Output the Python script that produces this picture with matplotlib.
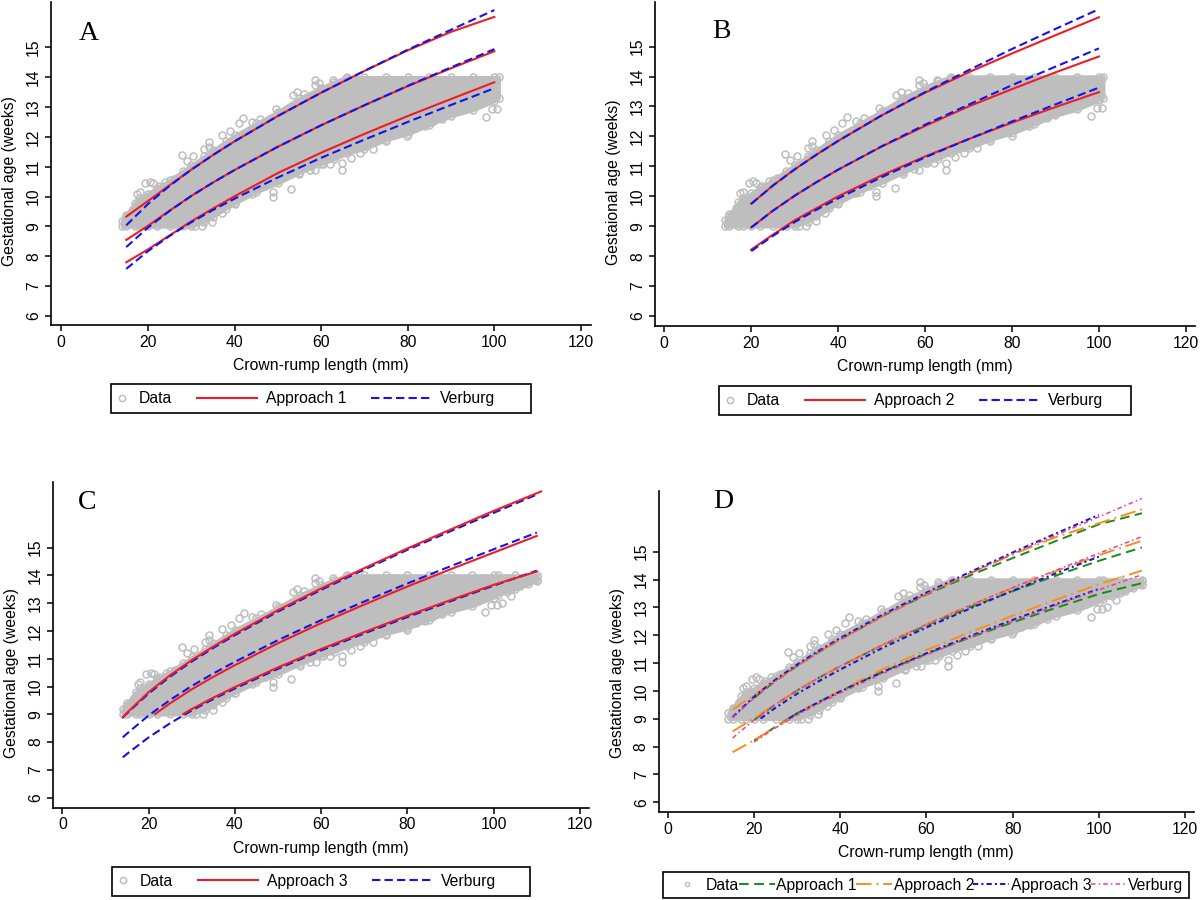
import numpy as np
import matplotlib
matplotlib.use("Agg")
import matplotlib.pyplot as plt
from matplotlib.lines import Line2D
from matplotlib.patches import Rectangle
from matplotlib.legend_handler import HandlerBase

plt.rcParams['font.family'] = ['Liberation Sans', 'DejaVu Sans']

# ---- data ----
# dense data cloud: lower / upper edge of the grey band (GA in weeks)
cloud_crl = [14, 15, 17, 18, 20, 22, 25, 28, 30, 33, 35, 38, 40, 45, 50, 55, 60, 63, 66,
             70, 75, 80, 85, 90, 95, 100, 101, 105, 110]
cloud_low = [9.0, 9.0, 9.0, 9.0, 9.0, 9.0, 9.0, 9.0, 9.0, 9.15, 9.33, 9.6, 9.77, 10.15, 10.45,
             10.8, 11.1, 11.25, 11.45, 11.6, 11.9, 12.1, 12.4, 12.7, 12.9, 13.2, 13.3, 13.5, 13.8]
cloud_high = [9.2, 9.4, 9.8, 9.95, 10.1, 10.3, 10.55, 10.85, 11.05, 11.35, 11.55, 11.85, 12.05,
              12.45, 12.85, 13.3, 13.65, 13.85, 14.0, 14.0, 14.0, 14.0, 14.0, 14.0, 14.0, 14.0,
              14.0, 14.0, 14.0]

# scattered points outside the dense band
out_crl = [15.0, 16.5, 17.5, 18.1, 19.4, 20.5, 21.2, 22.5, 24, 26, 27.8, 29, 30.5, 33, 34.0, 34.0,
           37.1, 39, 42.0, 41, 44, 46, 49.5, 50.5, 53.4, 54.5, 56, 58.5, 58.5, 59.5, 62.7, 65.8,
           30.9, 32.5, 34.9, 37, 40, 44, 47, 48.8, 48.8, 53.0, 55, 57.5, 58.7, 60.5, 62, 64.9,
           64.9, 67, 69, 72, 75, 79.9, 82, 84, 85.7, 88, 90, 91.9, 94.5, 96, 98.1, 99.5, 100.7,
           102, 103, 104, 106, 108, 110, 110]
out_ga = [9.35, 9.6, 10.1, 10.16, 10.44, 10.5, 10.44, 10.35, 10.5, 10.6, 11.41, 11.2, 11.35, 11.6,
          11.84, 11.67, 12.06, 12.2, 12.65, 12.45, 12.5, 12.6, 12.95, 12.85, 13.4, 13.5, 13.45,
          13.9, 13.73, 13.8, 13.9, 13.96,
          9.0, 9.0, 9.16, 9.45, 9.75, 10.1, 10.35, 10.0, 10.16, 10.27, 10.75, 10.9, 10.89, 11.1,
          11.1, 10.89, 11.11, 11.3, 11.45, 11.6, 11.85, 12.03, 12.3, 12.35, 12.5, 12.6, 12.8,
          13.0, 13.03, 13.1, 12.67, 12.95, 12.95,
          13.0, 13.4, 13.25, 13.6, 13.7, 13.85, 13.95]

# Verburg reference curves (lower / median / upper)
verb_crl = [14, 15, 20, 25, 30, 35, 40, 50, 60, 70, 80, 90, 100, 110]
verb_low = [7.45, 7.58, 8.17, 8.68, 9.14, 9.55, 9.93, 10.64, 11.30, 11.91, 12.50, 13.07, 13.63, 14.17]
verb_mid = [8.17, 8.31, 8.96, 9.52, 10.02, 10.47, 10.89, 11.67, 12.39, 13.06, 13.71, 14.33, 14.94, 15.54]
verb_up = [8.89, 9.04, 9.75, 10.36, 10.90, 11.39, 11.85, 12.70, 13.48, 14.21, 14.92, 15.59, 16.25, 16.91]

# Approach 1 (panel A)
a1_crl = [15, 20, 25, 30, 35, 40, 50, 60, 70, 80, 90, 100, 110]
a1_low = [7.80, 8.23, 8.70, 9.17, 9.60, 10.01, 10.79, 11.47, 12.10, 12.70, 13.27, 13.83, 14.32]
a1_mid = [8.55, 9.02, 9.53, 10.02, 10.47, 10.89, 11.67, 12.39, 13.06, 13.70, 14.30, 14.87, 15.39]
a1_up = [9.33, 9.85, 10.38, 10.90, 11.39, 11.85, 12.70, 13.48, 14.21, 14.90, 15.52, 16.02, 16.52]

# Approach 2 (panel B)
a2_crl = [20, 25, 30, 35, 40, 50, 60, 70, 80, 90, 100, 110]
a2_low = [8.22, 8.72, 9.20, 9.60, 10.00, 10.70, 11.33, 11.91, 12.46, 12.98, 13.48, 13.87]
a2_mid = [8.96, 9.52, 10.02, 10.47, 10.89, 11.66, 12.35, 13.00, 13.58, 14.14, 14.67, 15.15]
a2_up = [9.75, 10.36, 10.90, 11.39, 11.85, 12.70, 13.46, 14.14, 14.77, 15.38, 15.98, 16.38]

# Approach 3 (panel C), each centile starts where it leaves 9 weeks
a3_low_crl = [28, 30, 35, 40, 50, 60, 70, 80, 90, 100, 110]
a3_low = [9.01, 9.19, 9.60, 9.98, 10.69, 11.35, 11.96, 12.55, 13.11, 13.66, 14.14]
a3_mid_crl = [21.5, 25, 30, 35, 40, 50, 60, 70, 80, 90, 100, 110]
a3_mid = [9.01, 9.40, 9.90, 10.35, 10.77, 11.56, 12.28, 12.95, 13.60, 14.22, 14.82, 15.42]
a3_up_crl = [14, 15, 20, 25, 30, 35, 40, 50, 60, 70, 80, 90, 100, 111]
a3_up = [8.89, 9.06, 9.80, 10.41, 10.95, 11.44, 11.90, 12.75, 13.53, 14.26, 14.97, 15.65, 16.32, 17.02]

GREY = '#bebebe'
RED = '#ee1c24'
BLUE = '#1414e6'
GREEN = '#1a8a1a'
ORANGE = '#ff8c1a'
NAVY = '#1a1acc'
PINK = '#ee3d9a'
FS = 11.3


class LongLineHandler(HandlerBase):
    # legend line that reaches left past its (short) handle box
    def __init__(self, length):
        super().__init__()
        self.length = length

    def create_artists(self, legend, orig_handle, xdescent, ydescent, width, height,
                       fontsize, trans):
        y = height / 2 - ydescent
        x1 = width - xdescent
        line = Line2D([x1 - self.length, x1], [y, y])
        self.update_prop(line, orig_handle, legend)
        line.set_transform(trans)
        return [line]


def clip(x, y, lo, hi):
    x = np.asarray(x, float)
    y = np.asarray(y, float)
    keep = (x >= lo) & (x <= hi)
    return x[keep], y[keep]


def draw_data(ax, max_crl):
    x = np.asarray(cloud_crl, float)
    keep = x <= max_crl
    lo = np.asarray(cloud_low)[keep]
    hi = np.asarray(cloud_high)[keep]
    ax.fill_between(x[keep], lo, hi, color=GREY, lw=2.5, edgecolor=GREY, zorder=1)
    mk = dict(marker='o', ls='none', mfc='none', mec=GREY, ms=5, mew=1.1, zorder=1)
    ax.plot(x[keep], lo, **mk)
    ax.plot(x[keep], hi, **mk)
    ox, oy = clip(out_crl, out_ga, 0, max_crl)
    ax.plot(ox, oy, **mk)


def style_axes(ax, letter, letter_pos, ylabel, ylabel_y, xlim, ylim):
    ax.set_xlim(*xlim)
    ax.set_ylim(*ylim)
    for side in ('top', 'right'):
        ax.spines[side].set_visible(False)
    for side in ('left', 'bottom'):
        ax.spines[side].set_linewidth(1.2)
    ax.set_xticks(np.arange(0, 121, 20))
    ax.set_yticks(np.arange(6, 16, 1))
    ax.tick_params(direction='out', length=4, width=1.1, labelsize=FS, pad=3)
    plt.setp(ax.get_yticklabels(), rotation=90, va='center')
    ax.set_xlabel('Crown-rump length (mm)', fontsize=FS, labelpad=6)
    ax.set_ylabel(ylabel, fontsize=FS, labelpad=6.5)
    # y title sits a little below the middle of the axis, as in the figure
    ax.yaxis.label.set_y(ylabel_y)
    ax.text(letter_pos[0], letter_pos[1], letter, transform=ax.transAxes, ha='center',
            va='center', fontsize=20, family='Liberation Serif')


def boxed_legend(ax, handles, labels, box):
    # Stata-like legend: short handle boxes, long lines, fixed outer frame
    x0, y0, w, h = box
    hmap = {hd: LongLineHandler(43.2) for hd in handles[1:]}
    ax.legend(handles, labels, ncol=3, loc='center left', bbox_to_anchor=(x0, y0 + h / 2),
              bbox_transform=fig.transFigure, frameon=False, fontsize=FS, handlelength=1.0,
              handletextpad=0.57, columnspacing=4.4, borderpad=0.19, borderaxespad=0,
              handler_map=hmap)
    fig.add_artist(Rectangle((x0, y0), w, h, transform=fig.transFigure, fill=False,
                             ec='black', lw=1.2))


fig = plt.figure(figsize=(12, 9), dpi=100)


def abc_handles():
    return [Line2D([], [], marker='o', ls='none', mfc='none', mec=GREY, ms=4.5, mew=1.1),
            Line2D([], [], color=RED, lw=1.5),
            Line2D([], [], color=BLUE, lw=1.5, ls=(0, (4, 2)))]


# ---- panel A ----
ax = fig.add_axes([0.0424, 0.6389, 0.4504, 0.3589])
draw_data(ax, 101)
for xs, ys in [(a1_crl, a1_low), (a1_crl, a1_mid), (a1_crl, a1_up)]:
    ax.plot(*clip(xs, ys, 15, 100), color=RED, lw=1.5, zorder=3)
for ys in (verb_low, verb_mid, verb_up):
    ax.plot(*clip(verb_crl, ys, 15, 100), color=BLUE, lw=1.5, ls=(0, (4, 2)), zorder=4)
style_axes(ax, 'A', (0.070, 0.903), 'Gestational age (weeks)', 0.446,
           (-2.4, 122.4), (5.70, 16.52))
boxed_legend(ax, abc_handles(), ['Data', 'Approach 1', 'Verburg'], (0.0925, 0.5411, 0.35, 0.0322))

# ---- panel B ----
ax = fig.add_axes([0.5456, 0.6378, 0.4502, 0.36])
draw_data(ax, 101)
for xs, ys in [(a2_crl, a2_low), (a2_crl, a2_mid), (a2_crl, a2_up)]:
    ax.plot(*clip(xs, ys, 20, 100), color=RED, lw=1.5, zorder=3)
for ys in (verb_low, verb_mid, verb_up):
    ax.plot(*clip(verb_crl, ys, 20, 100), color=BLUE, lw=1.5, ls=(0, (4, 2)), zorder=4)
style_axes(ax, 'B', (0.124, 0.908), 'Gestaional age (weeks)', 0.443,
           (-2.2, 122.1), (5.67, 16.49))
boxed_legend(ax, abc_handles(), ['Data', 'Approach 2', 'Verburg'], (0.5992, 0.5389, 0.3433, 0.0322))

# ---- panel C ----
ax = fig.add_axes([0.0440, 0.1026, 0.4468, 0.3615])
draw_data(ax, 110)
for ys in (verb_low, verb_mid, verb_up):
    ax.plot(verb_crl, ys, color=BLUE, lw=1.5, ls=(0, (4, 2)), zorder=3)
for xs, ys in [(a3_low_crl, a3_low), (a3_mid_crl, a3_mid), (a3_up_crl, a3_up)]:
    ax.plot(xs, ys, color=RED, lw=1.5, zorder=4)
style_axes(ax, 'C', (0.064, 0.939), 'Gestational age (weeks)', 0.414,
           (-2.23, 122.1), (5.64, 17.35))
boxed_legend(ax, abc_handles(), ['Data', 'Approach 3', 'Verburg'], (0.0933, 0.0048, 0.3483, 0.0322))

# ---- panel D ----
ax = fig.add_axes([0.5488, 0.0974, 0.4462, 0.3574])
draw_data(ax, 110)
green_ls = (0, (5, 2.8))
orange_ls = (0, (8, 2.5, 1, 2.5))
navy_ls = (0, (2.5, 1.5, 1, 1.5))
pink_ls = (0, (3, 2, 1, 2))
# colours as drawn in the figure: green follows the approach-2 fit, orange the approach-1 fit
for ys in (a2_low, a2_mid, a2_up):
    ax.plot(a2_crl, ys, color=GREEN, lw=1.4, ls=green_ls, zorder=3)
for ys in (a1_low, a1_mid, a1_up):
    ax.plot(a1_crl, ys, color=ORANGE, lw=1.4, ls=orange_ls, zorder=4)
ax.plot(*clip(a3_low_crl, a3_low, 0, 108), color=NAVY, lw=1.5, ls=navy_ls, zorder=5)
ax.plot(*clip(a3_mid_crl, a3_mid, 0, 108), color=NAVY, lw=1.5, ls=navy_ls, zorder=5)
ax.plot(*clip(a3_up_crl, a3_up, 15, 100), color=NAVY, lw=1.5, ls=navy_ls, zorder=5)
ax.plot(*clip(verb_crl, verb_low, 20, 110), color=PINK, lw=1.1, ls=pink_ls, zorder=6)
ax.plot(*clip(verb_crl, verb_mid, 15, 110), color=PINK, lw=1.1, ls=pink_ls, zorder=6)
ax.plot(*clip(verb_crl, verb_up, 15, 110), color=PINK, lw=1.1, ls=pink_ls, zorder=6)
style_axes(ax, 'D', (0.120, 0.965), 'Gestational age (weeks)', 0.433,
           (-2.2, 122.1), (5.64, 17.19))
d_handles = [Line2D([], [], marker='o', ls='none', mfc='none', mec=GREY, ms=3, mew=1),
             Line2D([], [], color=GREEN, lw=1.4, ls=green_ls),
             Line2D([], [], color=ORANGE, lw=1.4, ls=orange_ls),
             Line2D([], [], color=NAVY, lw=1.5, ls=navy_ls),
             Line2D([], [], color=PINK, lw=1.1, ls=pink_ls)]
leg = ax.legend(d_handles, ['Data', 'Approach 1', 'Approach 2', 'Approach 3', 'Verburg'],
                ncol=5, loc='center', bbox_to_anchor=(0.5525, 0.0011, 0.4383, 0.0311),
                bbox_transform=fig.transFigure, mode='expand', fancybox=False,
                edgecolor='black', framealpha=1, fontsize=FS, borderaxespad=0,
                handlelength=2.3, handletextpad=0.1, columnspacing=0.1, borderpad=0.35)
leg.get_frame().set_linewidth(1.2)

fig.savefig('out.png', dpi=100)
